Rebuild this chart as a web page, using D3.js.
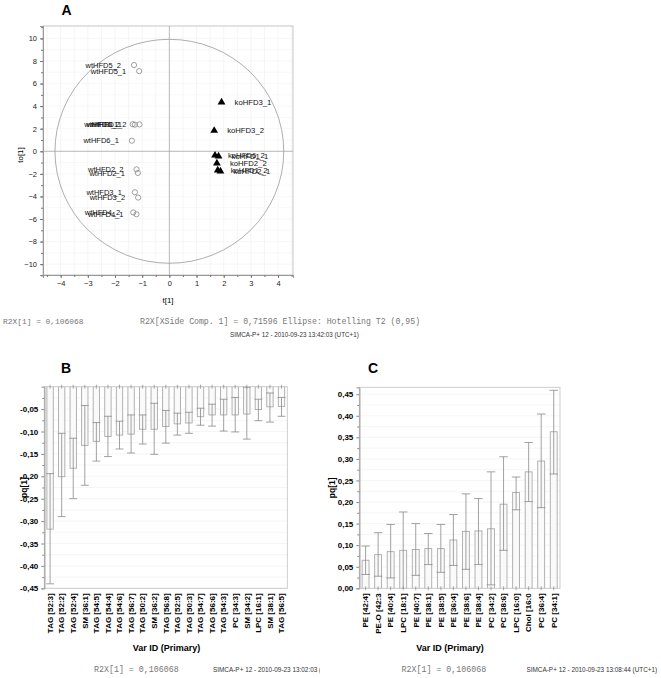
<!DOCTYPE html>
<html><head><meta charset="utf-8">
<script src="https://cdn.jsdelivr.net/npm/d3@7"></script>
<style>body{margin:0;background:#fff}</style>
</head><body><svg id="c" width="661" height="678" font-family="Arial,'Liberation Sans',sans-serif"></svg>
<script>
// ---------- Panel A data ----------
const wtLabels = ["wtHFD5_2","wtHFD5_1","wtHFD6_2","wtHFD1_1","wtHFD1_2","wtHFD6_1","wtHFD2_2","wtHFD2_1","wtHFD3_1","wtHFD3_2","wtHFD4_2","wtHFD4_1"];
const wtX = [-1.30,-1.11,-1.35,-1.27,-1.10,-1.38,-1.21,-1.16,-1.27,-1.15,-1.33,-1.21];
const wtY = [7.64,7.10,2.40,2.36,2.38,0.94,-1.60,-1.92,-3.63,-4.10,-5.42,-5.58];
const koLabels = ["koHFD3_1","koHFD3_2","koHFD6_2","koHFD1_1","koHFD2_2","koHFD1_2","koHFD2_1"];
const koX = [1.92,1.65,1.68,1.81,1.75,1.78,1.88];
const koY = [4.34,1.83,-0.36,-0.44,-1.06,-1.68,-1.76];
const ellipseT = 4.21, ellipseTo = 9.92;
const xTicksA = [-4,-3,-2,-1,0,1,2,3,4];
const yTicksA = [-10,-8,-6,-4,-2,0,2,4,6,8,10];

// ---------- Panel B data ----------
const catsB = ["TAG [52:3]","TAG [52:2]","TAG [52:4]","SM [36:1]","TAG [54:5]","TAG [54:4]","TAG [54:6]","TAG [56:7]","TAG [50:2]","SM [36:2]","TAG [56:8]","TAG [52:5]","TAG [50:3]","TAG [54:7]","TAG [56:6]","TAG [54:3]","PC [34:3]","SM [34:2]","LPC [16:1]","SM [38:1]","TAG [56:5]"];
const valB = [-0.318,-0.201,-0.182,-0.131,-0.122,-0.111,-0.108,-0.106,-0.095,-0.095,-0.089,-0.083,-0.081,-0.067,-0.063,-0.063,-0.063,-0.061,-0.051,-0.045,-0.044];
const hiB = [-0.194,-0.104,-0.115,-0.042,-0.080,-0.066,-0.077,-0.063,-0.063,-0.037,-0.053,-0.059,-0.057,-0.048,-0.039,-0.028,-0.024,-0.001,-0.028,-0.014,-0.024];
const loB = [-0.440,-0.290,-0.250,-0.220,-0.166,-0.156,-0.139,-0.148,-0.128,-0.151,-0.126,-0.108,-0.104,-0.086,-0.088,-0.099,-0.101,-0.117,-0.076,-0.079,-0.066];
const yTicksB = [-0.45,-0.40,-0.35,-0.30,-0.25,-0.20,-0.15,-0.10,-0.05];

// ---------- Panel C data ----------
const catsC = ["PE [42:4]","PE-O [42:3","PE [40:4]","LPC [18:1]","PE [40:7]","PE [38:1]","PE [38:5]","PE [36:4]","PE [38:6]","PE [38:4]","PC [34:2]","PC [38:6]","LPC [16:0]","Chol [16:0","PC [36:4]","PC [34:1]"];
const valC = [0.065,0.078,0.085,0.088,0.090,0.092,0.092,0.112,0.132,0.133,0.138,0.195,0.222,0.270,0.295,0.363];
const hiC = [0.098,0.129,0.148,0.177,0.150,0.127,0.148,0.171,0.219,0.208,0.270,0.305,0.258,0.338,0.404,0.459];
const loC = [0.032,0.028,0.024,-0.002,0.030,0.055,0.037,0.053,0.044,0.055,0.008,0.088,0.182,0.201,0.187,0.265];
const yTicksC = [0,0.05,0.10,0.15,0.20,0.25,0.30,0.35,0.40,0.45];

const footR2X = "R2X[1] = 0,106068";
const footEll = "R2X[XSide Comp. 1] = 0,71596 Ellipse: Hotelling T2 (0,95)";
const footSimA = "SIMCA-P+ 12 - 2010-09-23 13:42:03 (UTC+1)";
const footSimB = "SIMCA-P+ 12 - 2010-09-23 13:02:03 (UTC+1)";
const footSimC = "SIMCA-P+ 12 - 2010-09-23 13:08:44 (UTC+1)";

const SANS = "Arial,'Liberation Sans',sans-serif";
const MONO = "'Liberation Mono','Courier New',monospace";
const fmt = d => d3.format(".2f")(d).replace(".", ",").replace("\u2212","-");
const svg = d3.select("#c");
svg.append("rect").attr("width",661).attr("height",678).attr("fill","#fff");

// ================= Panel A =================
{
  const x = d3.scaleLinear().domain([-4.65, 4.55]).range([43, 293]);
  const y = d3.scaleLinear().domain([-10.96, 11.1]).range([275, 26]);
  const g = svg.append("g");
  g.selectAll("line.gx").data(d3.range(-4.5, 4.51, 0.5)).enter().append("line")
    .attr("x1", d=>x(d)).attr("x2", d=>x(d)).attr("y1", y.range()[1]).attr("y2", y.range()[0])
    .attr("stroke", "#eeeeee").attr("stroke-width", 0.6);
  g.selectAll("line.gy").data(d3.range(-10, 11, 1)).enter().append("line")
    .attr("y1", d=>y(d)).attr("y2", d=>y(d)).attr("x1", x.range()[0]).attr("x2", x.range()[1])
    .attr("stroke", "#f3f3f3").attr("stroke-width", 0.6);
  g.append("rect").attr("x", x.range()[0]).attr("y", y.range()[1])
    .attr("width", x.range()[1]-x.range()[0]).attr("height", y.range()[0]-y.range()[1])
    .attr("fill","none").attr("stroke","#b8b8b8").attr("stroke-width",0.8);
  g.append("line").attr("x1", x(0)).attr("x2", x(0)).attr("y1", y.range()[1]).attr("y2", y.range()[0]).attr("stroke","#aaa").attr("stroke-width",0.8);
  g.append("line").attr("y1", y(0)).attr("y2", y(0)).attr("x1", x.range()[0]).attr("x2", x.range()[1]).attr("stroke","#aaa").attr("stroke-width",0.8);
  g.append("ellipse").attr("cx", x(0)).attr("cy", y(0))
    .attr("rx", x(ellipseT)-x(0)).attr("ry", y(0)-y(ellipseTo))
    .attr("fill","none").attr("stroke","#999").attr("stroke-width",0.8);
  g.append("g").attr("transform", `translate(0,${y.range()[0]})`)
    .call(d3.axisBottom(x).tickValues(xTicksA).tickSize(3).tickFormat(d3.format("d")));
  g.append("g").attr("transform", `translate(0,${y.range()[0]})`)
    .call(d3.axisBottom(x).tickValues(d3.range(-4.5,4.51,0.5)).tickSize(2).tickFormat(""));
  g.append("g").attr("transform", `translate(${x.range()[0]},0)`)
    .call(d3.axisLeft(y).tickValues(yTicksA).tickSize(3).tickFormat(d3.format("d")));
  g.append("g").attr("transform", `translate(${x.range()[0]},0)`)
    .call(d3.axisLeft(y).tickValues(d3.range(-11,11.1,1)).tickSize(2).tickFormat(""));
  g.selectAll(".domain").attr("stroke","#999");
  g.selectAll(".tick line").attr("stroke","#777");
  g.selectAll(".tick text").attr("font-size", 7.5).attr("fill","#222").attr("font-family",SANS);
  wtX.forEach((v,i) => {
    g.append("circle").attr("cx", x(v)).attr("cy", y(wtY[i])).attr("r", 2.6)
      .attr("fill","none").attr("stroke","#888").attr("stroke-width",0.8);
    g.append("text").attr("x", x(v)-13).attr("y", y(wtY[i])).attr("dy","0.35em")
      .attr("text-anchor","end").attr("font-size",7.5).attr("fill","#111").text(wtLabels[i]);
  });
  const tri = d3.symbol().type(d3.symbolTriangle).size(26);
  koX.forEach((v,i) => {
    g.append("path").attr("d", tri).attr("transform", `translate(${x(v)},${y(koY[i])})`).attr("fill","#000");
    g.append("text").attr("x", x(v)+13).attr("y", y(koY[i])).attr("dy","0.35em")
      .attr("text-anchor","start").attr("font-size",7.7).attr("fill","#111").text(koLabels[i]);
  });
  svg.append("text").attr("x",66.5).attr("y",15).attr("text-anchor","middle").attr("font-size",14).attr("font-weight","bold").text("A");
  svg.append("text").attr("x",168).attr("y",303).attr("text-anchor","middle").attr("font-size",8).text("t[1]");
  svg.append("text").attr("transform","translate(23,155) rotate(-90)").attr("text-anchor","middle").attr("font-size",8).text("to[1]");
  svg.append("text").attr("x",3).attr("y",324).attr("font-family",MONO).attr("font-size",7.9).attr("fill","#777").text(footR2X);
  svg.append("text").attr("x",140).attr("y",324).attr("font-family",MONO).attr("font-size",8.2).attr("fill","#777").text(footEll);
  svg.append("text").attr("x",230).attr("y",337).attr("font-size",6.3).attr("fill","#333").text(footSimA);
}

// ================= Bar panels =================
function barPanel(opt) {
  const {cats, vals, hi, lo, left, right, top, bottom, domain, ticks, letter, letterX, titleX, pqX, footX, simX, sim, clipW} = opt;
  const g = svg.append("g");
  const x = d3.scaleBand().domain(cats).range([left, right]).padding(0);
  const y = d3.scaleLinear().domain(domain).range([bottom, top]);
  const cid = "clip"+letter;
  svg.append("clipPath").attr("id", cid).append("rect").attr("x",left).attr("y",top).attr("width",right-left).attr("height",bottom-top);
  g.selectAll("line.grid").data(d3.range(Math.ceil(domain[0]/0.025)*0.025, domain[1]+1e-9, 0.025)).enter().append("line")
    .attr("x1",left).attr("x2",right).attr("y1",d=>y(d)).attr("y2",d=>y(d)).attr("stroke","#f0f0f0").attr("stroke-width",0.7);
  g.append("rect").attr("x",left).attr("y",top).attr("width",right-left).attr("height",bottom-top)
    .attr("fill","none").attr("stroke","#c8c8c8").attr("stroke-width",0.9);
  const bw = x.bandwidth()*0.55, cw = x.bandwidth()*0.68;
  const base = y(0);
  const pg = g.append("g").attr("clip-path", `url(#${cid})`);
  cats.forEach((c,i) => {
    const cx = x(c) + x.bandwidth()/2;
    const y0 = Math.min(base, y(vals[i])), h = Math.abs(y(vals[i]) - base);
    pg.append("rect").attr("x", cx-bw/2).attr("y", y0).attr("width", bw).attr("height", h)
      .attr("fill","#fafafa").attr("stroke","#aaa").attr("stroke-width",0.9);
    pg.append("line").attr("x1",cx).attr("x2",cx).attr("y1",y(hi[i])).attr("y2",y(lo[i])).attr("stroke","#8a8a8a").attr("stroke-width",0.8);
    [hi[i], lo[i]].forEach(v => pg.append("line").attr("x1",cx-cw/2).attr("x2",cx+cw/2).attr("y1",y(v)).attr("y2",y(v)).attr("stroke","#8a8a8a").attr("stroke-width",0.8));
    g.append("line").attr("x1",cx).attr("x2",cx).attr("y1",base-2).attr("y2",base+2).attr("stroke","#888").attr("stroke-width",0.7);
  });
  const ay = g.append("g").attr("transform",`translate(${left},0)`).call(d3.axisLeft(y).tickValues(ticks).tickSize(3).tickFormat(fmt));
  g.append("g").attr("transform",`translate(${left},0)`).call(d3.axisLeft(y).tickValues(ticks.map(t=>t+0.025).filter(t=>t>domain[0] && t<domain[1])).tickSize(2).tickFormat(""));
  g.selectAll(".domain").attr("stroke","#aaa");
  g.selectAll(".tick line").attr("stroke","#888");
  ay.selectAll(".tick text").attr("font-size",8).attr("font-weight","bold").attr("fill","#000").attr("font-family",SANS);
  cats.forEach(c => {
    const cx = x(c) + x.bandwidth()/2;
    g.append("text").attr("transform",`translate(${cx},${bottom+5}) rotate(-90)`).attr("dy","0.35em")
      .attr("text-anchor","end").attr("font-size",8).attr("font-weight","bold").text(c);
  });
  svg.append("text").attr("x",letterX).attr("y",373).attr("text-anchor","middle").attr("font-size",14).attr("font-weight","bold").text(letter);
  svg.append("text").attr("x",titleX).attr("y",651).attr("text-anchor","middle").attr("font-size",9).attr("font-weight","bold").text("Var ID (Primary)");
  svg.append("text").attr("transform",`translate(${pqX},${(top+bottom)/2}) rotate(-90)`).attr("text-anchor","middle").attr("font-size",8.5).attr("font-weight","bold").text("pq[1]");
  svg.append("text").attr("x",footX).attr("y",672).attr("font-family",MONO).attr("font-size",8.3).attr("fill","#777").text(footR2X);
  const cp = "clipF"+letter;
  svg.append("clipPath").attr("id",cp).append("rect").attr("x",simX).attr("y",660).attr("width",clipW).attr("height",20);
  svg.append("text").attr("x",simX).attr("y",672).attr("font-size",6.4).attr("fill","#333").attr("clip-path",`url(#${cp})`).text(sim);
}

barPanel({cats:catsB, vals:valB, hi:hiB, lo:loB, left:44.3, right:287.3, top:386.7, bottom:588.3,
  domain:[-0.45,0], ticks:yTicksB, letter:"B", letterX:66, titleX:166.5, pqX:27, footX:94, simX:213, sim:footSimB, clipW:107});
barPanel({cats:catsC, vals:valC, hi:hiC, lo:loC, left:359.3, right:560, top:387.3, bottom:588.3,
  domain:[0,0.466], ticks:yTicksC, letter:"C", letterX:373, titleX:450, pqX:335, footX:401.5, simX:526.5, sim:footSimC, clipW:135});
</script></body></html>
